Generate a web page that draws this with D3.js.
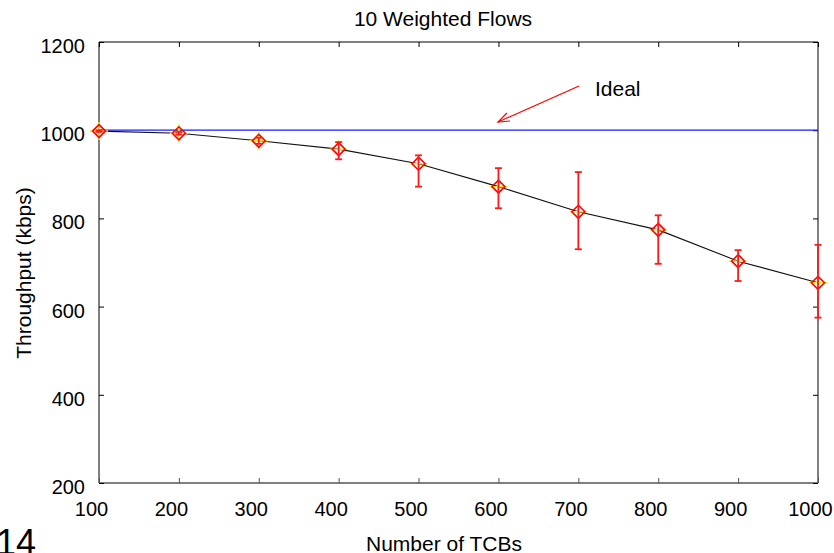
<!DOCTYPE html>
<html>
<head>
<meta charset="utf-8">
<script src="https://cdn.jsdelivr.net/npm/d3@7"></script>
<style>
  body { margin: 0; background: white; }
  svg { display: block; font-family: "Liberation Sans", Arial, sans-serif; }
</style>
</head>
<body>
<svg id="chart" width="834" height="553"></svg>
<script>
// data
var tcbs = [100, 200, 300, 400, 500, 600, 700, 800, 900, 1000];
var throughput = [998, 993, 976, 957, 924, 872, 815, 774, 703, 654];
var errLow = [996, 990, 969, 934, 872, 823, 730, 697, 658, 575];
var errHigh = [1000, 996, 983, 973, 943, 914, 905, 807, 728, 740];
var ideal = 1000;
var xTicks = [100, 200, 300, 400, 500, 600, 700, 800, 900, 1000];
var yTicks = [200, 400, 600, 800, 1000, 1200];

var svg = d3.select("#chart");

var x = d3.scaleLinear().domain([100, 1000]).range([99, 818]);
var y = d3.scaleLinear().domain([200, 1200]).range([483, 42]);

// frame
svg.append("line").attr("x1", 99).attr("x2", 818).attr("y1", 42).attr("y2", 42).attr("stroke", "#000");
svg.append("line").attr("x1", 99).attr("x2", 99).attr("y1", 42).attr("y2", 483).attr("stroke", "#000");
svg.append("line").attr("x1", 818).attr("x2", 818).attr("y1", 42).attr("y2", 483).attr("stroke", "#000");
svg.append("line").attr("x1", 99).attr("x2", 818).attr("y1", 483).attr("y2", 483)
    .attr("stroke", "#555").attr("stroke-width", 1.5);

// axes with inside ticks
var bottomAxis = svg.append("g").attr("transform", "translate(0,483)")
    .call(d3.axisBottom(x).tickValues(xTicks).tickSizeInner(-5).tickSizeOuter(0).tickFormat(d3.format("d")));
bottomAxis.select(".domain").remove();
bottomAxis.selectAll("line").attr("stroke", "#555");
bottomAxis.selectAll("text").attr("dy", null).attr("y", 33).attr("dx", -8)
    .attr("font-size", 20).attr("font-family", "Liberation Sans, Arial").attr("fill", "#000");

var topAxis = svg.append("g").attr("transform", "translate(0,42)")
    .call(d3.axisTop(x).tickValues(xTicks).tickSizeInner(-5).tickSizeOuter(0).tickFormat(""));
topAxis.select(".domain").remove();

var leftAxis = svg.append("g").attr("transform", "translate(99,0)")
    .call(d3.axisLeft(y).tickValues(yTicks).tickSizeInner(-5).tickSizeOuter(0).tickFormat(d3.format("d")));
leftAxis.select(".domain").remove();
leftAxis.selectAll("text").attr("dy", null).attr("y", 10.5).attr("x", -14)
    .attr("font-size", 20).attr("font-family", "Liberation Sans, Arial").attr("fill", "#000");

var rightAxis = svg.append("g").attr("transform", "translate(818,0)")
    .call(d3.axisRight(y).tickValues(yTicks).tickSizeInner(-5).tickSizeOuter(0).tickFormat(""));
rightAxis.select(".domain").remove();

// ideal line
svg.append("line")
    .attr("x1", x(100)).attr("x2", x(1000))
    .attr("y1", y(ideal)).attr("y2", y(ideal))
    .attr("stroke", "#1a1aff").attr("stroke-width", 1.3);

// measured curve
var line = d3.line().x(function(d, i) { return x(tcbs[i]); }).y(function(d) { return y(d); });
svg.append("path").datum(throughput)
    .attr("d", line).attr("fill", "none").attr("stroke", "#111").attr("stroke-width", 1.1);

// yellow crosses behind markers
var pts = svg.append("g").selectAll("g").data(throughput).join("g")
    .attr("transform", function(d, i) { return "translate(" + x(tcbs[i]) + "," + y(d) + ")"; });
pts.append("path").attr("d", "M-9,0H9M0,-9V9").attr("stroke", "#f4f000").attr("stroke-width", 1.5);

// error bars
var err = svg.append("g").attr("stroke", "#ff1a1a").attr("stroke-width", 1.8);
tcbs.forEach(function(t, i) {
    var cx = x(t);
    err.append("line").attr("x1", cx).attr("x2", cx).attr("y1", y(errLow[i])).attr("y2", y(errHigh[i]));
    err.append("line").attr("x1", cx - 3.5).attr("x2", cx + 3.5).attr("y1", y(errLow[i])).attr("y2", y(errLow[i]));
    err.append("line").attr("x1", cx - 3.5).attr("x2", cx + 3.5).attr("y1", y(errHigh[i])).attr("y2", y(errHigh[i]));
});

// diamond markers
pts.append("path").attr("d", "M0,-6.5L6.5,0L0,6.5L-6.5,0Z")
    .attr("fill", "none").attr("stroke", "#ff0000").attr("stroke-width", 1.6);

// arrow to the ideal line
svg.append("path").attr("d", "M579,86L498,122").attr("stroke", "#ff0000").attr("stroke-width", 1.2).attr("fill", "none");
svg.append("path").attr("d", "M507,113L498,122L510,121").attr("stroke", "#ff0000").attr("stroke-width", 1.2).attr("fill", "none");
svg.append("text").attr("x", 595).attr("y", 96).attr("font-size", 21).text("Ideal");

// titles
svg.append("text").attr("x", 443).attr("y", 26).attr("font-size", 21)
    .attr("text-anchor", "middle").text("10 Weighted Flows");
svg.append("text").attr("x", 444).attr("y", 551).attr("font-size", 21)
    .attr("text-anchor", "middle").text("Number of TCBs");
svg.append("text").attr("transform", "translate(31,273) rotate(-90)").attr("font-size", 21)
    .attr("text-anchor", "middle").text("Throughput (kbps)");

// page number cut off at the bottom
svg.append("text").attr("x", -4).attr("y", 555).attr("font-size", 36).text("14");
</script>
</body>
</html>
